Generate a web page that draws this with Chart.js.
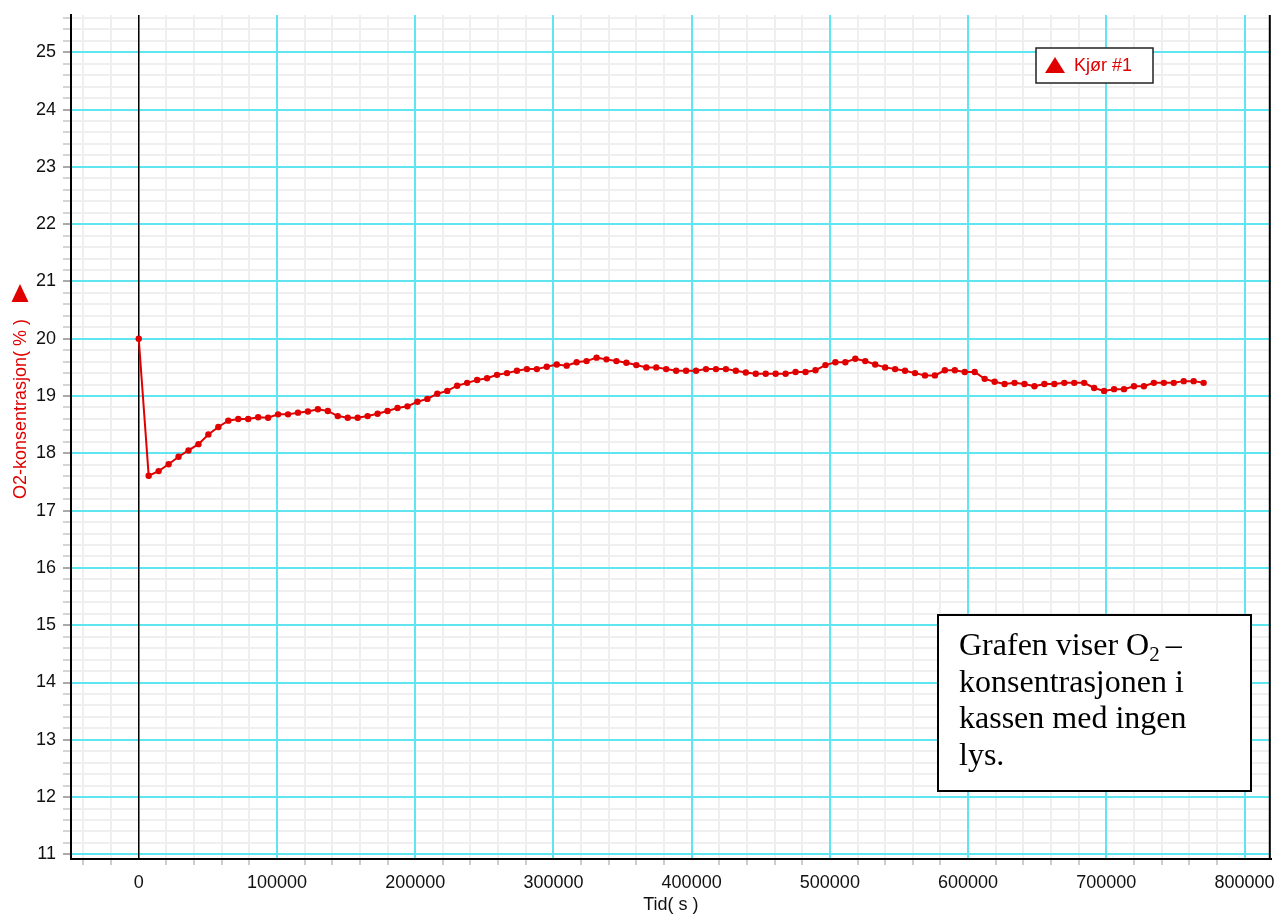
<!DOCTYPE html>
<html>
<head>
<meta charset="utf-8">
<script src="https://cdn.jsdelivr.net/npm/chart.js@4/dist/chart.umd.min.js"></script>
<style>
  html, body { margin: 0; padding: 0; background: #fff; }
  #wrap { width: 1274px; height: 915px; }
</style>
</head>
<body>
<div id="wrap"><canvas id="o2Chart" width="1274" height="915"></canvas></div>
<script>
(function () {
    'use strict';

    // tid (s) og O2-konsentrasjon (%), lest av grafen
    var times = [
        0, 7200, 14400, 21600, 28800, 36000, 43200, 50400, 57600, 64800,
        72000, 79200, 86400, 93600, 100800, 108000, 115200, 122400, 129600, 136800,
        144000, 151200, 158400, 165600, 172800, 180000, 187200, 194400, 201600, 208800,
        216000, 223200, 230400, 237600, 244800, 252000, 259200, 266400, 273600, 280800,
        288000, 295200, 302400, 309600, 316800, 324000, 331200, 338400, 345600, 352800,
        360000, 367200, 374400, 381600, 388800, 396000, 403200, 410400, 417600, 424800,
        432000, 439200, 446400, 453600, 460800, 468000, 475200, 482400, 489600, 496800,
        504000, 511200, 518400, 525600, 532800, 540000, 547200, 554400, 561600, 568800,
        576000, 583200, 590400, 597600, 604800, 612000, 619200, 626400, 633600, 640800,
        648000, 655200, 662400, 669600, 676800, 684000, 691200, 698400, 705600, 712800,
        720000, 727200, 734400, 741600, 748800, 756000, 763200, 770400
    ];
    var o2 = [
        20.00, 17.61, 17.69, 17.81, 17.94, 18.05, 18.16, 18.33, 18.46, 18.57,
        18.60, 18.60, 18.63, 18.62, 18.68, 18.68, 18.71, 18.73, 18.77, 18.74,
        18.65, 18.62, 18.62, 18.65, 18.69, 18.74, 18.79, 18.82, 18.90, 18.95,
        19.04, 19.09, 19.18, 19.23, 19.28, 19.31, 19.37, 19.40, 19.44, 19.47,
        19.47, 19.51, 19.55, 19.53, 19.59, 19.61, 19.67, 19.64, 19.61, 19.58,
        19.54, 19.50, 19.50, 19.47, 19.44, 19.44, 19.44, 19.47, 19.47, 19.47,
        19.44, 19.41, 19.39, 19.39, 19.39, 19.39, 19.42, 19.42, 19.45, 19.54,
        19.59, 19.59, 19.65, 19.61, 19.55, 19.50, 19.47, 19.44, 19.40, 19.36,
        19.36, 19.45, 19.45, 19.42, 19.42, 19.30, 19.25, 19.21, 19.23, 19.21,
        19.17, 19.21, 19.21, 19.23, 19.23, 19.23, 19.14, 19.09, 19.12, 19.12,
        19.17, 19.17, 19.23, 19.23, 19.23, 19.26, 19.26, 19.23
    ];
    var xRange = [-49000, 819000];
    var yRange = [10.92, 25.65];
    var xMajorStep = 100000;
    var xMinorStep = 20000;
    var yMajorStep = 1;
    var yMinorStep = 0.2;
    var seriesLabel = 'Kjør #1';
    var yTitle = 'O2-konsentrasjon( % )';
    var xTitle = 'Tid( s )';
    var noteLines = ['Grafen viser O', 'konsentrasjonen i', 'kassen med ingen', 'lys.'];

    var RED = '#e00000';
    var CYAN = '#5fe6f0';
    var MINOR = '#efefef';
    var CLEAR = 'rgba(0,0,0,0)';
    var SANS = '"Liberation Sans", Arial, sans-serif';
    var SERIF = '"Liberation Serif", "Times New Roman", serif';

    var points = times.map(function (t, i) { return { x: t, y: o2[i] }; });

    var near = function (v, step) { return Math.abs(v / step - Math.round(v / step)) < 1e-6; };
    var isMajorY = function (v) { return near(v, yMajorStep); };
    var isMajorX = function (v) { return near(v, xMajorStep); };

    // ticks on whole multiples of a step
    var stepTicks = function (step) {
        return function (scale) {
            var t = [];
            var k0 = Math.ceil(scale.min / step - 1e-9);
            var k1 = Math.floor(scale.max / step + 1e-9);
            for (var k = k0; k <= k1; k++) t.push({ value: Math.round(k * step * 1e6) / 1e6 });
            scale.ticks = t;
        };
    };

    // hidden axes that only paint the light minor grid, under the major lines
    var minorAxis = function (range, step, isX) {
        return {
            type: 'linear',
            position: isX ? 'bottom' : 'left',
            min: range[0],
            max: range[1],
            afterBuildTicks: stepTicks(step),
            afterFit: function (s) { if (isX) s.height = 0; else s.width = 0; s.paddingLeft = s.paddingRight = s.paddingTop = s.paddingBottom = 0; },
            border: { display: false },
            grid: { color: MINOR, lineWidth: 2, drawTicks: false, z: -3 },
            ticks: { display: false }
        };
    };

    var triangle = function (ctx, cx, top, w, h) {
        ctx.beginPath();
        ctx.moveTo(cx, top);
        ctx.lineTo(cx + w / 2, top + h);
        ctx.lineTo(cx - w / 2, top + h);
        ctx.closePath();
        ctx.fill();
    };

    var decor = {
        id: 'decor',
        afterDraw: function (chart) {
            var ctx = chart.ctx;
            var a = chart.chartArea;
            ctx.save();

            // right edge of the plot
            ctx.strokeStyle = '#000';
            ctx.lineWidth = 2;
            ctx.beginPath();
            ctx.moveTo(a.right - 1, a.top);
            ctx.lineTo(a.right - 1, a.bottom);
            ctx.stroke();

            // y title with marker
            ctx.fillStyle = RED;
            triangle(ctx, 20, 284, 17, 18);
            ctx.save();
            ctx.translate(21, 409);
            ctx.rotate(-Math.PI / 2);
            ctx.font = '18px ' + SANS;
            ctx.textAlign = 'center';
            ctx.textBaseline = 'middle';
            ctx.fillText(yTitle, 0, 0);
            ctx.restore();

            // legend box
            ctx.fillStyle = '#fff';
            ctx.fillRect(1036, 48, 117, 35);
            ctx.strokeStyle = '#222';
            ctx.lineWidth = 1.5;
            ctx.strokeRect(1036, 48, 117, 35);
            ctx.fillStyle = RED;
            triangle(ctx, 1055, 57, 20, 16);
            ctx.font = '18px ' + SANS;
            ctx.textAlign = 'left';
            ctx.textBaseline = 'middle';
            ctx.fillText(chart.data.datasets[0].label, 1074, 66);

            // note box
            ctx.fillStyle = '#fff';
            ctx.fillRect(938, 615, 313, 176);
            ctx.strokeStyle = '#000';
            ctx.lineWidth = 2;
            ctx.strokeRect(938, 615, 313, 176);
            ctx.fillStyle = '#000';
            ctx.textBaseline = 'alphabetic';
            ctx.font = '32px ' + SERIF;
            var x0 = 959;
            ctx.fillText(noteLines[0], x0, 655);
            var w0 = ctx.measureText(noteLines[0]).width;
            ctx.font = '21px ' + SERIF;
            ctx.fillText('2', x0 + w0, 661);
            var w1 = ctx.measureText('2').width;
            ctx.font = '32px ' + SERIF;
            ctx.fillText(' \u2013', x0 + w0 + w1 - 2, 655);
            for (var i = 1; i < noteLines.length; i++) {
                ctx.fillText(noteLines[i], x0, 655 + i * 36.7);
            }
            ctx.restore();
        }
    };

    var el = document.getElementById('o2Chart');
    new Chart(el, {
        type: 'line',
        data: {
            datasets: [{
                label: seriesLabel,
                data: points,
                xAxisID: 'x',
                yAxisID: 'y',
                borderColor: RED,
                backgroundColor: RED,
                borderWidth: 2,
                pointRadius: 3.2,
                pointHoverRadius: 3.2,
                pointBorderWidth: 0,
                pointBackgroundColor: RED,
                tension: 0,
                fill: false
            }]
        },
        options: {
            responsive: false,
            devicePixelRatio: 1,
            animation: false,
            layout: { padding: { top: 15, right: 1, left: 0, bottom: 0 } },
            plugins: { legend: { display: false }, tooltip: { enabled: false } },
            scales: {
                xm: minorAxis(xRange, xMinorStep, true),
                ym: minorAxis(yRange, yMinorStep, false),
                x: {
                    type: 'linear',
                    position: 'bottom',
                    min: xRange[0],
                    max: xRange[1],
                    afterBuildTicks: stepTicks(xMinorStep),
                    afterFit: function (s) { s.height = 56; s.paddingLeft = 0; s.paddingRight = 0; },
                    border: { display: true, color: '#000', width: 2 },
                    grid: {
                        z: -1,
                        color: function (c) {
                            var v = c.tick.value;
                            if (v === 0) return '#000';
                            return isMajorX(v) ? CYAN : CLEAR;
                        },
                        lineWidth: function (c) { return c.tick.value === 0 ? 1.5 : 2; },
                        tickLength: 6,
                        tickColor: function (c) { return isMajorX(c.tick.value) ? CLEAR : '#999'; },
                        tickWidth: 1
                    },
                    ticks: {
                        autoSkip: false,
                        maxRotation: 0,
                        padding: 7,
                        color: '#111',
                        font: { family: SANS, size: 18 },
                        callback: function (v) { return isMajorX(v) ? String(Math.round(v)) : ''; }
                    },
                    title: {
                        display: true,
                        text: xTitle,
                        color: '#111',
                        font: { family: SANS, size: 18, lineHeight: 1.1 },
                        padding: { top: 0, bottom: 0 }
                    }
                },
                y: {
                    type: 'linear',
                    position: 'left',
                    min: yRange[0],
                    max: yRange[1],
                    afterBuildTicks: stepTicks(yMinorStep),
                    afterFit: function (s) { s.width = 71; s.paddingTop = 0; s.paddingBottom = 0; },
                    border: { display: true, color: '#000', width: 2 },
                    grid: {
                        z: -2,
                        color: function (c) { return isMajorY(c.tick.value) ? CYAN : CLEAR; },
                        lineWidth: 2,
                        tickLength: 8,
                        tickColor: function (c) { return isMajorY(c.tick.value) ? '#555' : '#aaa'; },
                        tickWidth: 1
                    },
                    ticks: {
                        autoSkip: false,
                        padding: 7,
                        color: '#111',
                        font: { family: SANS, size: 18 },
                        callback: function (v) { return isMajorY(v) ? String(Math.round(v)) : ''; }
                    }
                }
            }
        },
        plugins: [decor]
    });
})();
</script>
</body>
</html>
